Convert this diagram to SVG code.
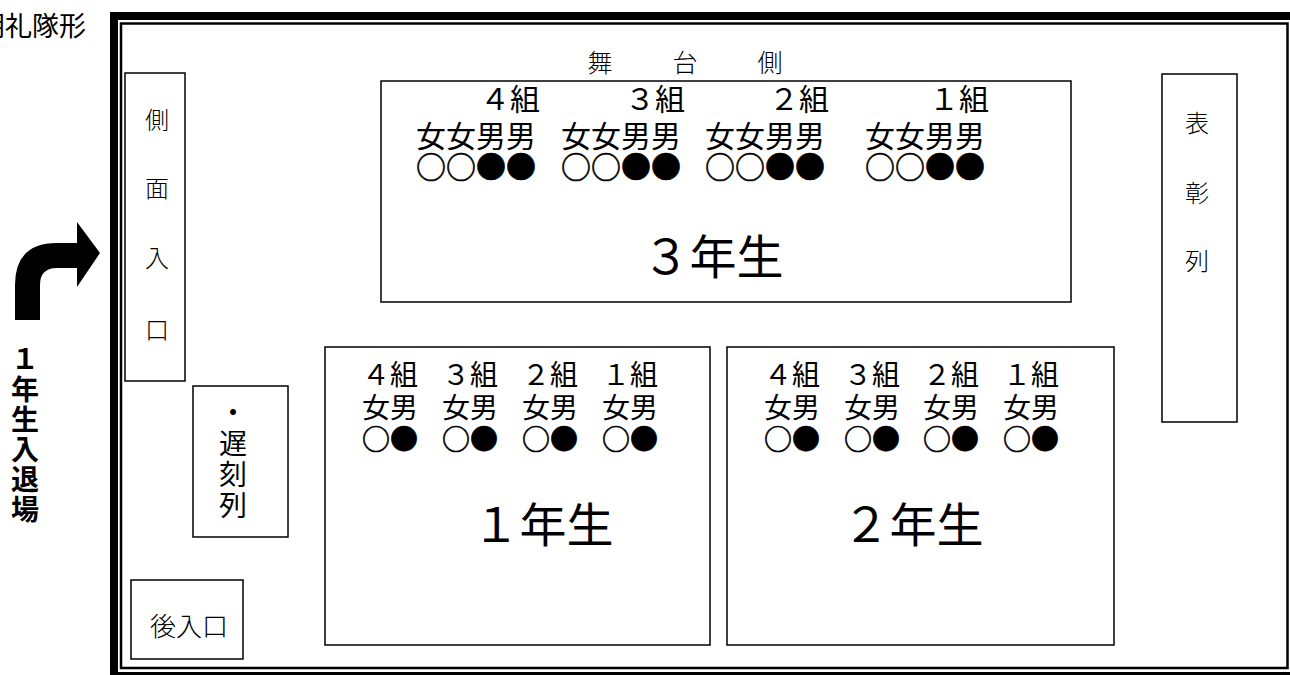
<svg xmlns="http://www.w3.org/2000/svg" width="1290" height="675" viewBox="0 0 1290 675">
<style>
.box{fill:#fff;stroke:#000;stroke-width:1.5}
.g{font-family:"Noto Sans CJK JP","Noto Sans",sans-serif;fill:#000}
.m{font-family:"Noto Sans CJK JP","Noto Sans",sans-serif;font-weight:300;fill:#000}
.c{text-anchor:middle}
.e{text-anchor:end}
.t30{font-size:30px}
.t28{font-size:28px}
.big{font-size:47px}
.v{writing-mode:vertical-rl}
.o{stroke:#000;stroke-width:0.6}
</style>
<rect width="1290" height="675" fill="#fff"/>
<text class="g" x="-22" y="36" font-size="27">朝礼隊形</text>
<g id="frame">
<rect x="114" y="16" width="1180" height="660" fill="none" stroke="#000" stroke-width="8"/>
<rect x="121" y="23.5" width="1166.5" height="644.5" fill="none" stroke="#000" stroke-width="2.5"/>
</g>
<g id="connectors">
<path d="M15,320 L15,285 Q15,243 57,243 L77,243 L77,222 L100,253 L77,287 L77,268 L57,268 Q40,268 40,285 L40,320 Z" fill="#000"/>
</g>
<g id="entrance-label">
<text class="g v" x="25" y="345" font-size="28" font-weight="bold" letter-spacing="2">１年生入退場</text>
</g>
<g id="stage" class="m c" font-size="25">
<text x="600" y="72">舞</text>
<text x="685" y="72">台</text>
<text x="770" y="72">側</text>
</g>
<g id="side-entrance">
<rect class="box" x="125" y="73" width="60" height="308"/>
<g class="m c" font-size="24">
<text x="157" y="129">側</text>
<text x="157" y="197">面</text>
<text x="157" y="267">入</text>
<text x="157" y="339">口</text>
</g>
</g>
<g id="late-line">
<rect class="box" x="193" y="386" width="95" height="151"/>
<text class="g v t28" x="233" y="398" letter-spacing="3">・遅刻列</text>
</g>
<g id="rear-entrance">
<rect class="box" x="131" y="580" width="112" height="79"/>
<text class="m" x="150" y="636" font-size="26">後入口</text>
</g>
<g id="award-line">
<rect class="box" x="1162" y="74" width="75" height="348"/>
<g class="m c" font-size="24">
<text x="1197" y="132">表</text>
<text x="1197" y="202">彰</text>
<text x="1197" y="270">列</text>
</g>
</g>
<g id="grade3">
<rect class="box" x="381" y="81" width="690" height="221"/>
<g class="g t30">
<text><tspan class="e" x="540" y="110">４組</tspan><tspan x="416" y="147">女女男男</tspan><tspan class="o" x="416" y="178">○○●●</tspan></text>
<text><tspan class="e" x="685" y="110">３組</tspan><tspan x="561" y="147">女女男男</tspan><tspan class="o" x="561" y="178">○○●●</tspan></text>
<text><tspan class="e" x="829" y="110">２組</tspan><tspan x="705" y="147">女女男男</tspan><tspan class="o" x="705" y="178">○○●●</tspan></text>
<text><tspan class="e" x="989" y="110">１組</tspan><tspan x="865" y="147">女女男男</tspan><tspan class="o" x="865" y="178">○○●●</tspan></text>
</g>
<text class="g c big" x="713" y="274">３年生</text>
</g>
<g id="grade1">
<rect class="box" x="325" y="347" width="385" height="298"/>
<g class="g t28">
<text><tspan x="362" y="385">４組</tspan><tspan x="362" y="418">女男</tspan><tspan class="o" x="362" y="450">○●</tspan></text>
<text><tspan x="442" y="385">３組</tspan><tspan x="442" y="418">女男</tspan><tspan class="o" x="442" y="450">○●</tspan></text>
<text><tspan x="522" y="385">２組</tspan><tspan x="522" y="418">女男</tspan><tspan class="o" x="522" y="450">○●</tspan></text>
<text><tspan x="602" y="385">１組</tspan><tspan x="602" y="418">女男</tspan><tspan class="o" x="602" y="450">○●</tspan></text>
</g>
<text class="g c big" x="543" y="542">１年生</text>
</g>
<g id="grade2">
<rect class="box" x="727" y="347" width="387" height="298"/>
<g class="g t28">
<text><tspan x="764" y="385">４組</tspan><tspan x="764" y="418">女男</tspan><tspan class="o" x="764" y="450">○●</tspan></text>
<text><tspan x="844" y="385">３組</tspan><tspan x="844" y="418">女男</tspan><tspan class="o" x="844" y="450">○●</tspan></text>
<text><tspan x="923" y="385">２組</tspan><tspan x="923" y="418">女男</tspan><tspan class="o" x="923" y="450">○●</tspan></text>
<text><tspan x="1003" y="385">１組</tspan><tspan x="1003" y="418">女男</tspan><tspan class="o" x="1003" y="450">○●</tspan></text>
</g>
<text class="g c big" x="913" y="542">２年生</text>
</g>
</svg>
